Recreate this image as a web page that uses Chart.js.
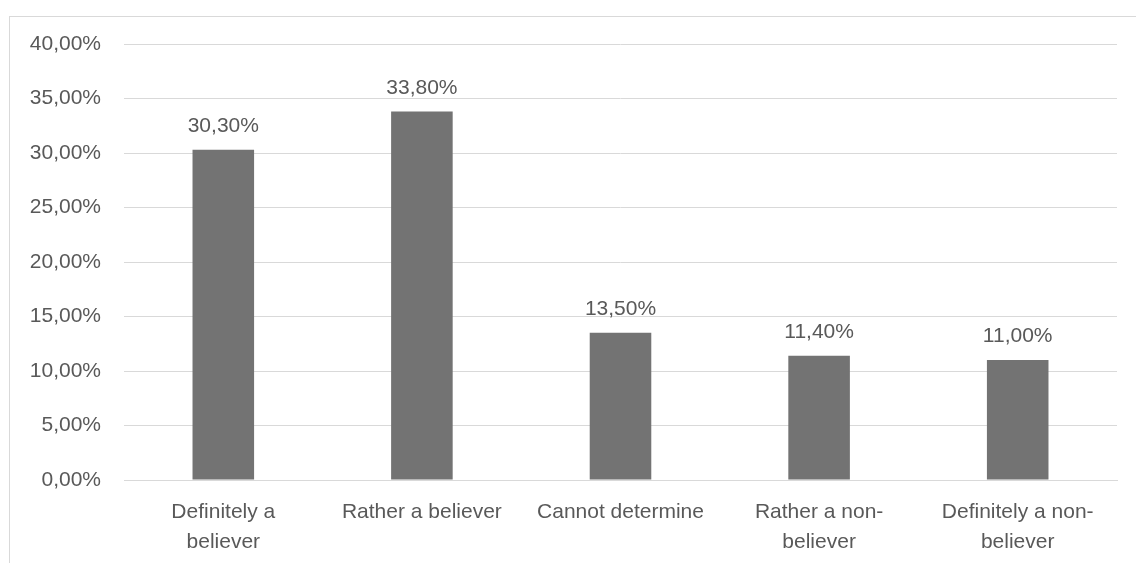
<!DOCTYPE html>
<html>
<head>
<meta charset="utf-8">
<script src="https://cdn.jsdelivr.net/npm/chart.js@4/dist/chart.umd.min.js"></script>
<style>
  html, body { margin: 0; padding: 0; background: #ffffff; overflow: hidden; }
  #wrap { position: relative; width: 1136px; height: 563px; }
  #frame { position: absolute; left: 9px; top: 16px; width: 2000px; height: 2000px;
           border: 1px solid #d9d9d9; box-sizing: border-box; }
  canvas { position: absolute; left: 0; top: 0; }
</style>
</head>
<body>
<div id="wrap">
  <div id="frame"></div>
  <canvas id="c" width="1136" height="563"></canvas>
</div>
<script>
// Survey answers (share of respondents, %)
const categories = [
  ["Definitely a", "believer"],
  "Rather a believer",
  "Cannot determine",
  ["Rather a non-", "believer"],
  ["Definitely a non-", "believer"]
];
const shares = [30.3, 33.8, 13.5, 11.4, 11.0];
const yTicks = [0, 5, 10, 15, 20, 25, 30, 35, 40];

const FONT = "'Liberation Sans', Arial, sans-serif";
const TEXT = '#595959';
const GRID = '#d9d9d9';

const fmt = v => v.toFixed(2).replace('.', ',') + '%';

// Value labels above each bar
const valueLabels = {
  id: 'valueLabels',
  afterDatasetsDraw(chart) {
    const ctx = chart.ctx;
    const meta = chart.getDatasetMeta(0);
    ctx.save();
    ctx.font = '21px ' + FONT;
    ctx.fillStyle = TEXT;
    ctx.textAlign = 'center';
    ctx.textBaseline = 'alphabetic';
    meta.data.forEach((bar, i) => {
      ctx.fillText(fmt(chart.data.datasets[0].data[i]), bar.x, bar.y - 18);
    });
    ctx.restore();
  }
};

new Chart(document.getElementById('c'), {
  type: 'bar',
  data: {
    labels: categories,
    datasets: [{
      data: shares,
      backgroundColor: '#737373',
      borderWidth: 0,
      categoryPercentage: 1,
      barPercentage: 0.31
    }]
  },
  options: {
    responsive: false,
    animation: false,
    devicePixelRatio: 1,
    layout: { padding: { left: 0, right: 19, top: 44, bottom: 0 } },
    plugins: { legend: { display: false }, tooltip: { enabled: false } },
    scales: {
      x: {
        grid: { display: false, drawTicks: false },
        border: { display: true, color: GRID, width: 1 },
        ticks: {
          color: TEXT,
          font: { family: FONT, size: 21, lineHeight: 1.43 },
          padding: 17,
          maxRotation: 0,
          autoSkip: false
        },
        afterFit(scale) { scale.height = 83; }
      },
      y: {
        min: 0,
        max: 40,
        afterBuildTicks(scale) { scale.ticks = yTicks.map(v => ({ value: v })); },
        grid: { color: GRID, lineWidth: 1, drawTicks: false },
        border: { display: false },
        ticks: {
          color: TEXT,
          font: { family: FONT, size: 21 },
          padding: 23,
          callback: v => fmt(v)
        },
        afterFit(scale) { scale.width = 124; }
      }
    }
  },
  plugins: [valueLabels]
});
</script>
</body>
</html>
